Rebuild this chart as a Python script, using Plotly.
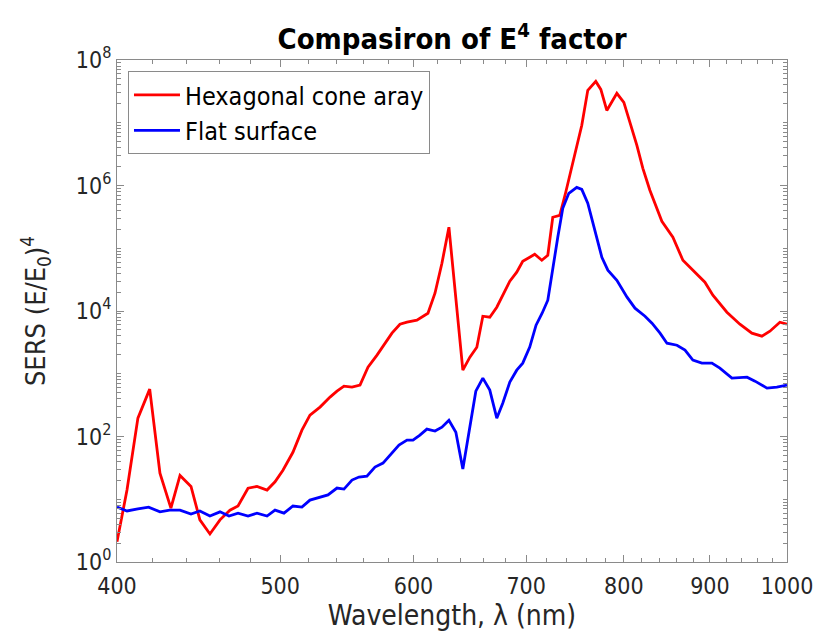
import plotly.graph_objects as go

# Hexagonal cone array
wl_hex = [400, 405.5, 411.6, 418.3, 424.2, 430.6, 436.0, 442.6, 448.0, 454.2, 460.5, 466.8, 472.0,
          478.5, 484.4, 491.1, 496.5, 501.9, 508.8, 515.1, 520.8, 528.0, 535.3, 540.4, 545.6, 551.6,
          557.7, 563.8, 570.8, 577.1, 582.6, 589.0, 594.7, 602.8, 612.0, 617.9, 623.8, 629.8, 641.9,
          648.1, 654.3, 659.7, 666.0, 672.4, 677.9, 684.5, 691.0, 696.7, 703.4, 708.2, 715.1, 721.0,
          725.9, 732.9, 738.9, 748.1, 755.3, 761.5, 769.9, 775.2, 781.6, 792.4, 800.0, 807.7, 814.4,
          821.1, 829.0, 842.7, 855.5, 867.3, 879.2, 893.8, 903.6, 921.1, 937.6, 953.1, 966.2, 976.9,
          990.3, 1000]
sers_hex = [2.1, 14, 196, 569, 26, 7.2, 24, 16, 4.7, 2.8, 4.7, 6.7, 7.8,
            15, 16, 14, 19, 29, 56, 126, 219, 294, 424, 528, 635, 612,
            658, 1270, 1980, 3070, 4430, 6160, 6630, 7140, 9220, 19200, 57700, 216000, 1140,
            1840, 2650, 8260, 7960, 11500, 17900, 29800, 41500, 62100, 71900, 80200, 64400, 77400,
            312000, 335000, 780000, 3.26e6, 9.1e6, 3.28e7, 4.56e7, 3.4e7, 1.57e7, 2.94e7, 2.11e7, 9.1e6, 4.37e6,
            1.88e6, 8.39e5, 2.69e5, 1.5e5, 64400, 44700, 28800, 17900, 9570, 6160, 4430, 3970, 4770,
            6630, 6160]

# Flat surface
wl_flat = [400, 405.5, 411.6, 417.7, 424.2, 429.9, 436.0, 442.6, 448.0, 454.2, 460.5, 466.2, 472.0,
           478.5, 484.4, 491.1, 496.5, 502.6, 508.8, 515.1, 520.8, 528.0, 533.8, 540.4, 545.6, 551.6,
           556.9, 563.0, 569.2, 575.5, 582.6, 588.2, 594.7, 599.6, 605.3, 611.1, 617.9, 623.8, 629.8,
           635.8, 641.9, 653.4, 659.7, 666.0, 672.4, 677.9, 684.5, 691.0, 696.7, 703.4, 709.5, 715.4,
           721.0, 725.9, 730.9, 735.9, 742.0, 750.1, 755.3, 761.5, 768.9, 776.3, 782.7, 792.4, 803.5,
           812.3, 823.5, 831.4, 840.6, 848.6, 860.3, 869.8, 879.2, 890.1, 902.4, 912.3, 927.4, 946.8,
           957.2, 973.0, 986.2, 1000]
sers_flat = [7.5, 6.5, 7.0, 7.5, 6.3, 6.7, 6.7, 5.8, 6.5, 5.4, 6.3, 5.4, 6.0,
             5.4, 6.0, 5.4, 6.7, 6.0, 7.8, 7.5, 9.7, 10.8, 11.7, 15.1, 14.5, 20.2,
             22.6, 23.4, 32.6, 37.7, 54.4, 73, 87.7, 87.7, 105, 131, 122, 141, 182,
             117, 30.3, 528, 851, 548, 196, 340, 735, 1140, 1475, 2655, 5940, 9226,
             14860, 49800, 149600, 433600, 751000, 935000, 869000, 521000, 193600, 71900, 44700, 30900, 16600,
             11090, 8260, 6390, 4430, 3070, 2850, 2377, 1647, 1475, 1475, 1228, 851, 883,
             762, 590, 612, 658]

x_ticks = [400, 500, 600, 700, 800, 900, 1000]
x_ticktext = ["400", "500", "600", "700", "800", "900", "1000"]
x_minor = [v for v in range(420, 1000, 20) if v % 100 != 0]
y_ticks = [1, 1e2, 1e4, 1e6, 1e8]
y_ticktext = ["10<sup>0</sup>", "10<sup>2</sup>", "10<sup>4</sup>", "10<sup>6</sup>", "10<sup>8</sup>"]
y_minor = [m * 10 ** e for e in range(0, 8) for m in range(1, 10) if not (m == 1 and e % 2 == 0)]

FONT = "DejaVu Sans Condensed, DejaVu Sans, sans-serif"
AX = "#8a8a8a"
TXT = "#262626"

fig = go.Figure()
fig.add_trace(go.Scatter(x=wl_hex, y=sers_hex, mode="lines", name="Hexagonal cone aray",
                         line=dict(color="#ff0000", width=2.8)))
fig.add_trace(go.Scatter(x=wl_flat, y=sers_flat, mode="lines", name="Flat surface",
                         line=dict(color="#0000ff", width=2.8)))

axis_common = dict(showline=True, linecolor=AX, linewidth=1, mirror="allticks",
                   ticks="inside", ticklen=7, tickcolor=AX, showgrid=False, zeroline=False,
                   tickfont=dict(family=FONT, size=23, color=TXT))

fig.update_xaxes(type="log", range=[2.6020600, 3.0], tickmode="array", tickvals=x_ticks,
                 ticktext=x_ticktext, ticklabelstandoff=3,
                 minor=dict(tickmode="array", tickvals=x_minor, ticks="inside", ticklen=4, tickcolor=AX),
                 title=dict(text="Wavelength, λ (nm)", font=dict(family=FONT, size=28, color=TXT), standoff=3),
                 **axis_common)
fig.update_yaxes(type="log", range=[0, 8], tickmode="array", tickvals=y_ticks, ticktext=y_ticktext,
                 minor=dict(tickmode="array", tickvals=y_minor, ticks="inside", ticklen=4, tickcolor=AX),
                 title=dict(text="SERS (E/E<sub>0</sub>)<sup>4</sup>", font=dict(family=FONT, size=27, color=TXT),
                            standoff=22),
                 **axis_common)

fig.update_layout(
    width=814, height=632,
    margin=dict(l=117, r=27, t=60, b=70, autoexpand=False),
    paper_bgcolor="white", plot_bgcolor="white",
    title=dict(text="<b>Compasiron of E<sup>4</sup> factor</b>", x=0.5554, xanchor="center",
               y=1 - 39 / 632, yref="container", yanchor="middle",
               font=dict(family=FONT, size=29, color="#000000")),
    legend=dict(x=0.0164, y=0.978, xanchor="left", yanchor="top", bgcolor="white",
                bordercolor=AX, borderwidth=1, font=dict(family=FONT, size=25, color="#000000"),
                itemwidth=46, tracegroupgap=0),
    showlegend=True,
)

fig.write_html("out.html")
